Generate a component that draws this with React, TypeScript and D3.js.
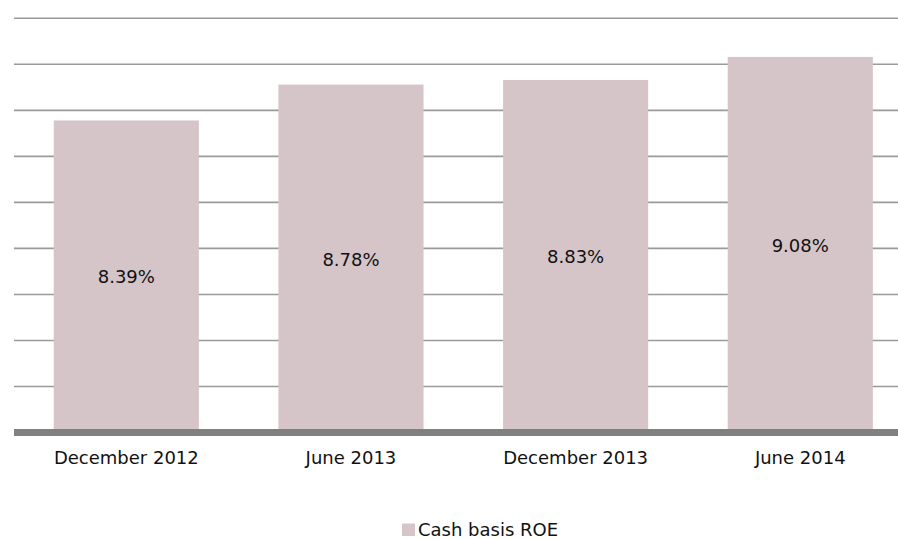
import React from "react";
import * as d3 from "d3";

const categories = ["December 2012", "June 2013", "December 2013", "June 2014"];
const roeValues = [8.39, 8.78, 8.83, 9.08];
const valueLabels = ["8.39%", "8.78%", "8.83%", "9.08%"];
const yTicks = [5, 5.5, 6, 6.5, 7, 7.5, 8, 8.5, 9, 9.5];
const seriesName = "Cash basis ROE";

const W = 898;
const H = 539;
const FONT = "'DejaVu Sans', sans-serif";
const BAR = "#d5c5c8";

export default function App() {
  const x = d3.scaleBand<string>().domain(categories).range([14, 912.6]).paddingInner(0.354).paddingOuter(0.177);
  const y = d3.scaleLinear().domain([5, 9.5]).range([432.5, 18.3]);
  return (
    <svg width={W} height={H} style={{ position: "absolute", left: 0, top: 0, background: "#fff" }}>
      {yTicks.slice(1).map((t) => (
        <line key={t} x1={14} x2={W} y1={y(t)} y2={y(t)} stroke="#9a9a9a" strokeWidth={1.6} />
      ))}
      {categories.map((c, i) => (
        <g key={c}>
          <rect x={x(c)} y={y(roeValues[i])} width={x.bandwidth()} height={y(5) - y(roeValues[i])} fill={BAR} />
          <text
            x={(x(c) as number) + x.bandwidth() / 2}
            y={(y(roeValues[i]) + y(5)) / 2 + 7}
            textAnchor="middle"
            fontFamily={FONT}
            fontSize={18}
            fill="#111"
          >
            {valueLabels[i]}
          </text>
          <text
            x={(x(c) as number) + x.bandwidth() / 2}
            y={464}
            textAnchor="middle"
            fontFamily={FONT}
            fontSize={18}
            fill="#111"
          >
            {c}
          </text>
        </g>
      ))}
      <rect x={14} y={429} width={W - 14} height={7} fill="#808080" />
      <rect x={402} y={523.5} width={13} height={12.5} fill={BAR} />
      <text x={418} y={536} fontFamily={FONT} fontSize={18} fill="#111">
        {seriesName}
      </text>
    </svg>
  );
}
